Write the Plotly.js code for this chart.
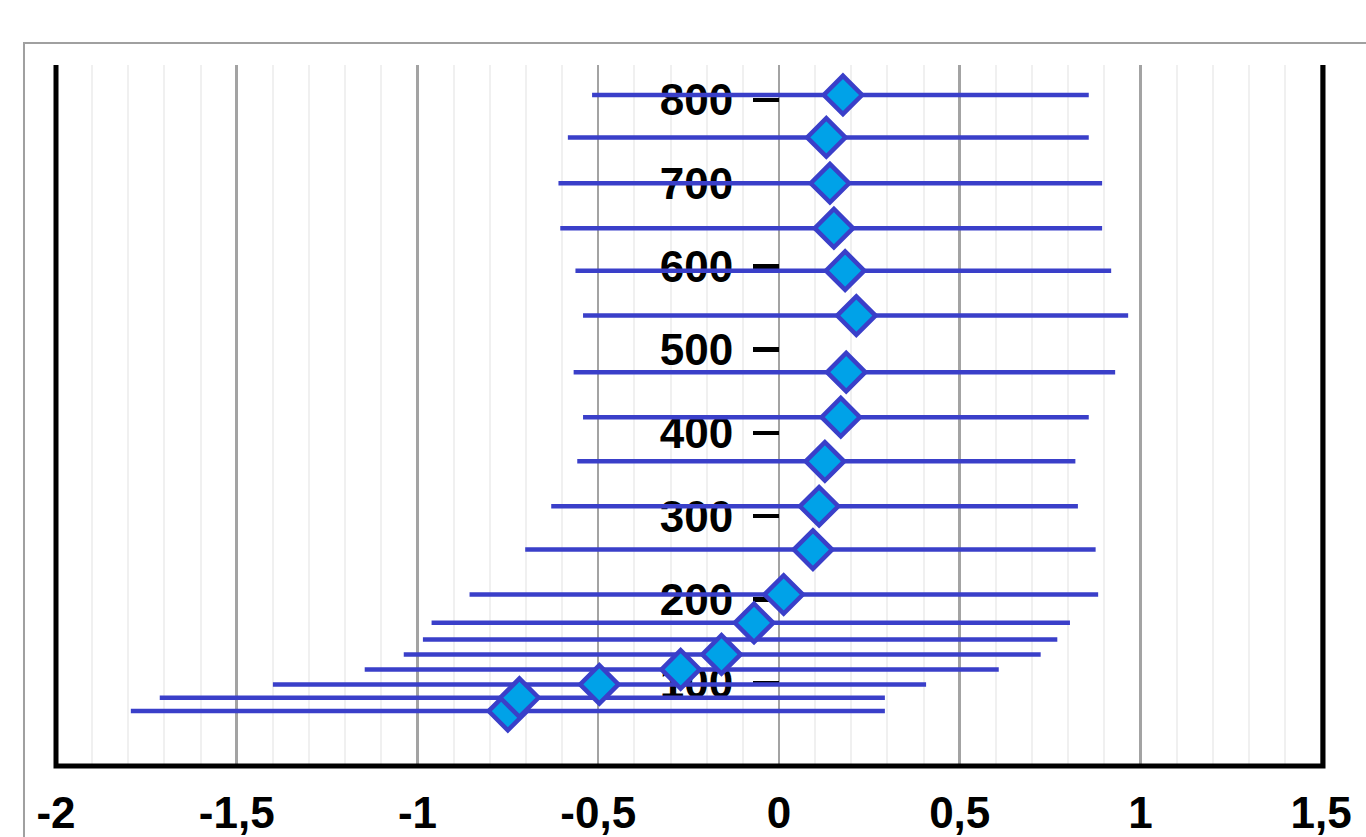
<!DOCTYPE html>
<html><head><meta charset="utf-8">
<script src="https://cdn.plot.ly/plotly-3.0.1.min.js"></script>
<style>html,body{margin:0;padding:0;background:#fff;}#chart{width:1366px;height:837px;}</style>
</head><body><div id="chart"></div>
<script>
// rows ordered from the bottom of the chart to the top
const depth    = [66, 82, 98, 116, 134, 152, 172, 206, 260, 312, 366, 419, 473, 541, 595, 646, 700, 755, 806];
const meanVal  = [-0.750, -0.718, -0.497, -0.272, -0.159, -0.109, -0.069, 0.013, 0.094, 0.111, 0.127, 0.171, 0.186, 0.214, 0.183, 0.152, 0.141, 0.131, 0.177];
const lowerVal = [-1.793, -1.713, -1.400, -1.146, -1.038, -0.985, -0.961, -0.856, -0.702, -0.630, -0.558, -0.542, -0.568, -0.542, -0.563, -0.605, -0.610, -0.584, -0.517];
const upperVal = [0.293, 0.293, 0.407, 0.608, 0.724, 0.770, 0.805, 0.883, 0.876, 0.827, 0.820, 0.857, 0.930, 0.966, 0.919, 0.894, 0.894, 0.857, 0.857];
const markerShown = [1, 1, 1, 1, 1, 0, 1, 1, 1, 1, 1, 1, 1, 1, 1, 1, 1, 1, 1];
const xTickVals = [-2, -1.5, -1, -0.5, 0, 0.5, 1, 1.5];
const xTickText = ['-2', '-1,5', '-1', '-0,5', '0', '0,5', '1', '1,5'];
const yTickVals = [100, 200, 300, 400, 500, 600, 700, 800];
const yTickText = ['100', '200', '300', '400', '500', '600', '700', '800'];

const plus  = upperVal.map((u, i) => u - meanVal[i]);
const minus = lowerVal.map((l, i) => meanVal[i] - l);

const lineBlue = '#3a3fc9';
const fillBlue = '#00a2e8';
const font = {family: 'Arial, "Liberation Sans", sans-serif', size: 44, color: '#000', weight: 'bold'};
const XMIN = -2, XMAX = 1.505;

const traces = [
  {
    type: 'scatter', mode: 'markers', x: meanVal, y: depth,
    marker: {size: 1, color: 'rgba(0,0,0,0)', opacity: 1},
    error_x: {type: 'data', symmetric: false, array: plus, arrayminus: minus,
              color: lineBlue, thickness: 4.5, width: 0},
    hoverinfo: 'skip', showlegend: false
  },
  {
    type: 'scatter', mode: 'markers', x: meanVal, y: depth,
    marker: {symbol: 'diamond', size: markerShown.map(s => s ? 29.5 : 0), color: fillBlue,
             opacity: 1, line: {color: lineBlue, width: 4.5}},
    showlegend: false
  }
];

const layout = {
  width: 1366, height: 837,
  margin: {l: 56, r: 43, t: 65, b: 71, pad: 0},
  paper_bgcolor: '#fff', plot_bgcolor: '#fff',
  showlegend: false,
  xaxis: {
    range: [XMIN, XMAX], tickvals: xTickVals, ticktext: xTickText,
    ticks: '', showline: false, zeroline: false,
    showgrid: true, gridcolor: '#a3a3a3', gridwidth: 2.5,
    minor: {dtick: 0.1, tick0: 0, showgrid: true, gridcolor: '#f0f0f0', gridwidth: 2, ticks: ''},
    tickfont: font, ticklabelstandoff: 17, fixedrange: true
  },
  yaxis: {
    range: [0, 842], anchor: 'free', position: (0 - XMIN) / (XMAX - XMIN),
    tickvals: yTickVals, ticktext: yTickText,
    ticks: 'outside', ticklen: 26, tickwidth: 4.5, tickcolor: '#000',
    showgrid: false, zeroline: false, showline: false, layer: 'below traces',
    tickfont: font, ticklabelstandoff: 11, fixedrange: true
  },
  shapes: [
    {type: 'path', xref: 'paper', yref: 'paper', path: 'M0,1L0,0L1,0L1,1',
     line: {color: '#000', width: 5}},
    {type: 'path', xref: 'paper', yref: 'paper', path: 'M-0.02526,-0.3L-0.02526,1.0314L1.2,1.0314',
     line: {color: '#a0a0a0', width: 2}}
  ]
};

Plotly.newPlot('chart', traces, layout, {displayModeBar: false, staticPlot: true});
</script>
</body></html>
